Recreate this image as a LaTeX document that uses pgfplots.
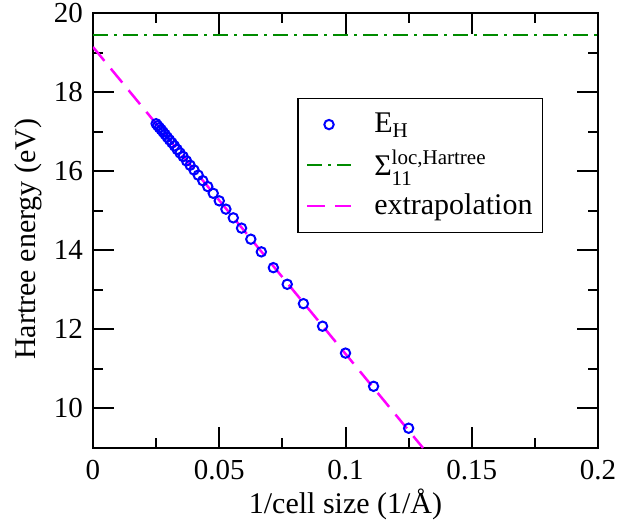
\documentclass[border=0pt]{standalone}
\usepackage{fontspec}
\setmainfont{Liberation Serif}
\usepackage{amsmath}
\usepackage{pgfplots}
\pgfplotsset{compat=1.18}
\definecolor{ggreen}{RGB}{0,139,0}
\definecolor{mmag}{RGB}{255,0,255}
\pgfplotsset{
  lineleg/.style={legend image code/.code={\draw[##1] (0pt,0pt) -- (44pt,0pt);}},
  markleg/.style={legend image code/.code={\draw[mark repeat=2,mark phase=2,##1] plot coordinates {(0pt,0pt) (22pt,0pt) (44pt,0pt)};}},
}
\pgfplotstableread{
x y
0.125 9.50
0.111111 10.56
0.1 11.40
0.090909 12.08
0.083333 12.65
0.076923 13.14
0.071429 13.56
0.066667 13.96
0.0625 14.28
0.058824 14.56
0.055556 14.82
0.052632 15.04
0.05 15.25
0.047619 15.44
0.045455 15.61
0.043478 15.76
0.041667 15.90
0.04 16.03
0.038462 16.15
0.037037 16.26
0.035714 16.37
0.034483 16.46
0.033333 16.55
0.032258 16.64
0.03125 16.72
0.030303 16.79
0.029412 16.86
0.028571 16.93
0.027778 16.99
0.027027 17.05
0.026316 17.10
0.025641 17.15
0.025 17.20
}\ehdata
\begin{document}
\fontsize{29}{33}\selectfont
\begin{tikzpicture}
\useasboundingbox (-93pt,-74pt) rectangle (525pt,448pt);
\begin{axis}[
  at={(0pt,0pt)}, anchor=south west,
  scale only axis, width=505pt, height=435pt,
  xmin=0, xmax=0.2, ymin=9, ymax=20,
  xtick={0,0.05,0.1,0.15,0.2},
  xticklabels={0,0.05,0.1,0.15,0.2},
  ytick={10,12,14,16,18,20},
  yticklabels={10,12,14,16,18,20},
  /pgf/number format/assume math mode=true,
  minor x tick num=1, minor y tick num=1,
  tick align=inside,
  major tick length=21pt, minor tick length=10pt,
  axis line style={line width=2pt},
  tick style={line width=2pt, black},
  tick label style={font=\fontsize{29}{33}\selectfont},
  yticklabel style={inner sep=0pt, xshift=-10pt},
  xticklabel style={inner sep=0pt, yshift=-12pt},
  xlabel={1/cell size (1/Å)},
  ylabel={Hartree energy (eV)},
  xlabel style={at={(axis description cs:0.5,0)}, anchor=base, yshift=-65pt, inner sep=0pt},
  ylabel style={at={(axis description cs:0,0.48)}, anchor=center, yshift=65pt, inner sep=0pt},
  label style={font=\fontsize{30}{34}\selectfont},
  legend style={at={(rel axis cs:0.404,0.805)}, anchor=north west, draw=black, line width=1.5pt,
    font=\fontsize{30}{34}\selectfont, inner xsep=8pt, inner ysep=12pt, row sep=9pt,
    /tikz/every odd column/.append style={column sep=20pt}},
  legend cell align=left,
]
\addplot[only marks, mark=o, mark size=4.7pt, blue, line width=2pt, markleg]
  table[x=x,y=y] {\ehdata};
\addlegendentry{E$_{\text{H}}$}
\addplot[ggreen, line width=2.5pt, dash pattern=on 15pt off 6pt on 3pt off 6pt, lineleg]
  coordinates {(0,19.44) (0.2,19.44)};
\addlegendentry{Σ$^{\text{loc,Hartree}}_{\text{11}}$}
\addplot[mmag, line width=2.5pt, dash pattern=on 18pt off 10pt, lineleg]
  coordinates {(0,19.14) (0.1307,9)};
\addlegendentry{extrapolation}
\end{axis}
\end{tikzpicture}
\end{document}
